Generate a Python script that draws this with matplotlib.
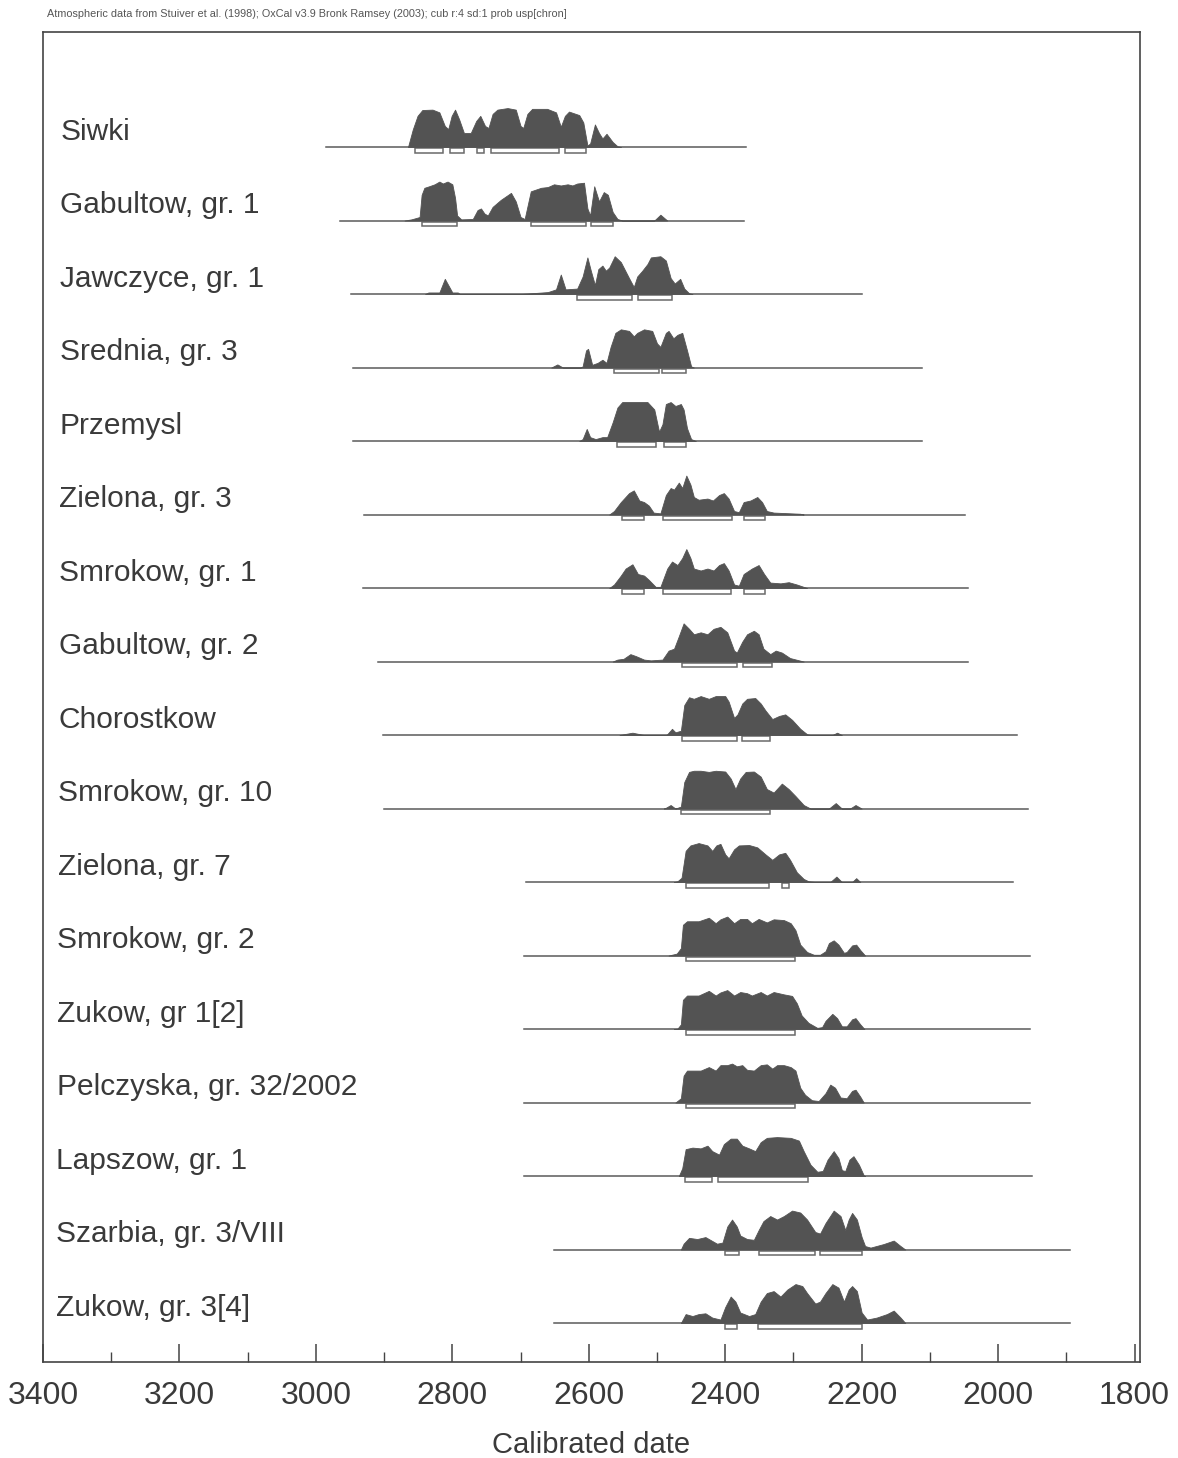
import matplotlib
matplotlib.use("Agg")
import matplotlib.pyplot as plt
from matplotlib.patches import Rectangle
from matplotlib import font_manager

# site / grave names, top to bottom
labels = ["Siwki", "Gabultow, gr. 1", "Jawczyce, gr. 1", "Srednia, gr. 3", "Przemysl",
          "Zielona, gr. 3", "Smrokow, gr. 1", "Gabultow, gr. 2", "Chorostkow",
          "Smrokow, gr. 10", "Zielona, gr. 7", "Smrokow, gr. 2", "Zukow, gr 1[2]",
          "Pelczyska, gr. 32/2002", "Lapszow, gr. 1", "Szarbia, gr. 3/VIII", "Zukow, gr. 3[4]"]

# extent of the calibration line under each distribution (cal BC)
spans = [(2985, 2370), (2965, 2373), (2948, 2199), (2946, 2111), (2946, 2111),
         (2929, 2048), (2931, 2044), (2909, 2044), (2902, 1972), (2900, 1956),
         (2692, 1978), (2695, 1953), (2695, 1953), (2695, 1953), (2695, 1950),
         (2651, 1895), (2651, 1895)]

# posterior outlines: (year BC, relative probability)
siwki = [(2865, 0), (2858, .45), (2851, .80), (2844, .95), (2829, .96), (2819, .89),
         (2811, .54), (2806, .46), (2801, .80), (2796, .96), (2790, .71), (2783, .36),
         (2773, .36), (2765, .67), (2759, .80), (2752, .54), (2747, .49), (2741, .85),
         (2734, .96), (2719, 1.0), (2707, .96), (2700, .54), (2696, .49), (2690, .85),
         (2683, .98), (2661, .98), (2648, .89), (2641, .52), (2635, .80), (2629, .91),
         (2614, .82), (2608, .63), (2602, .04), (2598, .09), (2591, .58), (2585, .36),
         (2580, .22), (2574, .34), (2565, .13), (2558, .02), (2553, 0)]
gabultow1 = [(2870, 0), (2860, .03), (2848, .09), (2845, .66), (2841, .84), (2834, .88),
             (2826, .93), (2819, 1.0), (2814, .95), (2807, 1.0), (2800, .93), (2796, .58),
             (2793, .13), (2787, .03), (2770, .04), (2763, .27), (2758, .31), (2753, .18),
             (2748, .13), (2741, .35), (2729, .53), (2714, .71), (2707, .49), (2700, .09),
             (2694, .04), (2685, .75), (2670, .84), (2660, .86), (2651, .93), (2641, .90),
             (2631, .93), (2624, .90), (2617, .95), (2607, .97), (2602, .31), (2598, .13),
             (2592, .88), (2585, .49), (2578, .73), (2572, .66), (2565, .22), (2558, .04),
             (2551, 0), (2504, 0), (2495, .15), (2485, 0)]
jawczyce1 = [(2840, 0), (2835, .04), (2819, .04), (2811, .39), (2800, .04), (2792, .04),
             (2789, 0), (2700, 0), (2660, .05), (2648, .12), (2641, .50), (2634, .12),
             (2617, .14), (2609, .45), (2602, .94), (2597, .60), (2591, .23), (2586, .64),
             (2580, .73), (2575, .60), (2570, .68), (2562, .97), (2553, .82), (2541, .41),
             (2534, .18), (2529, .45), (2522, .59), (2514, .77), (2509, .94), (2495, .97),
             (2487, .86), (2480, .41), (2474, .27), (2466, .39), (2460, .14), (2453, .02),
             (2448, 0)]
srednia3 = [(2655, 0), (2646, .08), (2638, 0), (2612, 0), (2609, .03), (2604, .44),
            (2601, .48), (2595, .07), (2587, .12), (2580, .20), (2574, .12), (2568, .53),
            (2561, .89), (2553, .98), (2541, .94), (2534, .80), (2529, .89), (2519, .98),
            (2507, .94), (2500, .62), (2495, .53), (2487, .89), (2483, .94), (2476, .75),
            (2470, .84), (2463, .89), (2456, .44), (2450, .03), (2446, 0)]
przemysl = [(2614, 0), (2609, .05), (2603, .31), (2598, .10), (2590, .05), (2580, .10),
            (2573, .10), (2565, .48), (2558, .86), (2551, 1.0), (2534, 1.0), (2514, 1.0),
            (2504, .81), (2497, .24), (2492, .43), (2487, .95), (2480, 1.0), (2473, .90),
            (2465, .95), (2461, .81), (2456, .33), (2450, .05), (2443, 0)]
zielona3 = [(2570, 0), (2563, .09), (2553, .32), (2541, .55), (2534, .62), (2526, .36),
            (2519, .32), (2512, .23), (2505, .05), (2495, .03), (2487, .50), (2480, .68),
            (2475, .64), (2468, .82), (2463, .68), (2457, 1.0), (2451, .77), (2446, .45),
            (2439, .38), (2426, .41), (2418, .36), (2409, .50), (2402, .55), (2395, .41),
            (2387, .09), (2380, .06), (2373, .32), (2363, .36), (2353, .45), (2346, .32),
            (2339, .09), (2329, .05), (2290, .02), (2285, 0)]
smrokow1 = [(2570, 0), (2563, .09), (2553, .32), (2546, .50), (2536, .61), (2528, .36),
            (2519, .32), (2512, .21), (2502, .03), (2495, .03), (2485, .50), (2478, .68),
            (2470, .59), (2463, .77), (2457, 1.0), (2451, .77), (2446, .50), (2436, .45),
            (2426, .50), (2417, .45), (2409, .59), (2402, .64), (2395, .45), (2387, .09),
            (2380, .06), (2373, .36), (2361, .50), (2351, .59), (2343, .36), (2334, .14),
            (2319, .12), (2307, .15), (2295, .09), (2280, 0)]
gabultow2 = [(2565, 0), (2558, .05), (2549, .07), (2539, .19), (2531, .14), (2519, .05),
             (2509, .03), (2492, .05), (2483, .28), (2475, .33), (2468, .65), (2461, .98),
             (2453, .84), (2446, .70), (2436, .75), (2426, .70), (2417, .84), (2407, .89),
             (2397, .75), (2387, .28), (2383, .23), (2375, .51), (2368, .70), (2358, .79),
             (2351, .70), (2344, .33), (2334, .19), (2326, .28), (2317, .23), (2305, .09),
             (2285, 0)]
chorostkow = [(2555, 0), (2536, .06), (2519, 0), (2487, 0), (2485, .02), (2478, .16),
              (2473, .07), (2465, .11), (2460, .77), (2453, .97), (2446, .93), (2436, 1.0),
              (2424, .93), (2414, 1.0), (2400, 1.0), (2395, .86), (2387, .44), (2382, .53),
              (2375, .81), (2368, .93), (2356, .95), (2348, .81), (2341, .63), (2331, .41),
              (2321, .49), (2312, .53), (2302, .39), (2290, .16), (2280, .02), (2275, 0),
              (2243, 0), (2236, .06), (2229, 0)]
smrokow10 = [(2490, 0), (2487, .02), (2480, .09), (2473, 0), (2465, .05), (2460, .68),
             (2453, .94), (2446, .97), (2436, .97), (2424, .94), (2414, .97), (2400, .95),
             (2392, .77), (2385, .50), (2378, .77), (2370, .94), (2358, .95), (2348, .82),
             (2339, .50), (2329, .41), (2317, .64), (2307, .50), (2297, .32), (2285, .09),
             (2275, 0), (2248, 0), (2238, .14), (2229, 0), (2217, 0), (2209, .09), (2200, 0)]
zielona7 = [(2475, 0), (2470, .02), (2464, .11), (2458, .80), (2451, .94), (2439, 1.0),
            (2426, .94), (2419, .80), (2413, .94), (2407, .98), (2400, .71), (2395, .61),
            (2387, .84), (2380, .94), (2365, .95), (2353, .89), (2341, .71), (2331, .57),
            (2321, .71), (2312, .75), (2305, .57), (2295, .25), (2285, .08), (2278, .02),
            (2268, 0), (2246, 0), (2237, .14), (2229, 0), (2214, 0), (2208, .10), (2202, 0)]
smrokow2 = [(2483, 0), (2471, .05), (2465, .19), (2462, .79), (2456, .88), (2439, .88),
            (2424, .97), (2414, .83), (2407, .93), (2397, 1.0), (2387, .83), (2378, .94),
            (2368, .94), (2361, .83), (2351, .94), (2339, .85), (2329, .93), (2314, .91),
            (2304, .83), (2297, .65), (2290, .28), (2280, .09), (2270, .02), (2261, .02),
            (2253, .11), (2248, .32), (2241, .39), (2234, .28), (2226, .07), (2222, .09),
            (2214, .26), (2208, .28), (2202, .14), (2195, 0)]
zukow1 = [(2475, 0), (2470, .01), (2465, .12), (2462, .75), (2456, .86), (2439, .86),
          (2424, .98), (2414, .86), (2407, .94), (2397, 1.0), (2387, .86), (2378, .95),
          (2368, .92), (2361, .86), (2348, .95), (2339, .86), (2329, .95), (2314, .89),
          (2302, .85), (2295, .66), (2288, .35), (2278, .16), (2265, .03), (2258, .05),
          (2253, .21), (2243, .39), (2236, .28), (2229, .07), (2222, .07), (2214, .25),
          (2209, .28), (2202, .12), (2196, 0)]
pelczyska = [(2473, 0), (2465, .11), (2461, .69), (2456, .82), (2436, .82), (2424, .91),
             (2414, .82), (2407, .96), (2397, .96), (2390, 1.0), (2383, .93), (2375, .96),
             (2368, .84), (2358, .82), (2348, .96), (2339, .98), (2331, .87), (2324, .96),
             (2314, .96), (2304, .91), (2297, .82), (2290, .38), (2283, .20), (2273, .06),
             (2263, .04), (2253, .24), (2246, .46), (2239, .38), (2231, .13), (2222, .11),
             (2214, .30), (2209, .33), (2202, .15), (2197, 0)]
lapszow1 = [(2468, 0), (2463, .20), (2458, .69), (2448, .73), (2436, .71), (2426, .78),
            (2419, .64), (2409, .55), (2402, .82), (2392, .96), (2383, .96), (2375, .78),
            (2365, .71), (2356, .64), (2348, .87), (2339, .98), (2324, 1.0), (2304, .98),
            (2292, .91), (2285, .64), (2275, .29), (2265, .11), (2257, .13), (2250, .42),
            (2241, .64), (2234, .46), (2229, .15), (2224, .13), (2218, .42), (2212, .51),
            (2204, .29), (2197, .02), (2195, 0)]
szarbia3 = [(2465, 0), (2461, .15), (2453, .30), (2441, .27), (2429, .32), (2422, .25),
            (2412, .15), (2404, .18), (2397, .59), (2390, .77), (2383, .59), (2378, .36),
            (2368, .27), (2358, .25), (2351, .50), (2344, .73), (2334, .86), (2324, .77),
            (2314, .86), (2302, 1.0), (2290, .95), (2280, .77), (2268, .45), (2261, .41),
            (2253, .68), (2241, 1.0), (2231, .86), (2224, .50), (2219, .77), (2214, .94),
            (2207, .77), (2200, .32), (2195, .09), (2187, .05), (2168, .14), (2153, .23),
            (2143, .09), (2136, 0)]
zukow3 = [(2465, 0), (2458, .23), (2448, .18), (2439, .23), (2429, .25), (2419, .14),
          (2407, .09), (2400, .41), (2392, .68), (2385, .55), (2378, .27), (2365, .18),
          (2356, .23), (2348, .55), (2339, .77), (2329, .82), (2319, .68), (2309, .86),
          (2297, 1.0), (2287, .95), (2280, .77), (2268, .50), (2261, .55), (2253, .77),
          (2243, 1.0), (2234, .91), (2226, .55), (2219, .86), (2214, .95), (2207, .82),
          (2200, .27), (2192, .09), (2178, .14), (2163, .23), (2153, .32), (2143, .14),
          (2136, 0)]

outlines = [siwki, gabultow1, jawczyce1, srednia3, przemysl, zielona3, smrokow1,
            gabultow2, chorostkow, smrokow10, zielona7, smrokow2, zukow1, pelczyska,
            lapszow1, szarbia3, zukow3]

# 95.4% highest posterior density ranges drawn as brackets under the line
ranges = [
    [(2855, 2813), (2803, 2783), (2764, 2753), (2744, 2643), (2635, 2604)],
    [(2844, 2793), (2685, 2604), (2597, 2565)],
    [(2617, 2536), (2528, 2478)],
    [(2563, 2497), (2492, 2458)],
    [(2559, 2502), (2490, 2458)],
    [(2551, 2519), (2491, 2390), (2373, 2341)],
    [(2551, 2519), (2491, 2392), (2373, 2341)],
    [(2463, 2383), (2374, 2331)],
    [(2464, 2383), (2375, 2334)],
    [(2465, 2335)],
    [(2458, 2336), (2317, 2307)],
    [(2458, 2297)],
    [(2458, 2297)],
    [(2458, 2297)],
    [(2459, 2419), (2411, 2278)],
    [(2400, 2380), (2351, 2269), (2261, 2200)],
    [(2401, 2382), (2352, 2200)],
]

header = ("Atmospheric data from Stuiver et al. (1998); OxCal v3.9 Bronk Ramsey (2003); "
          "cub r:4 sd:1 prob usp[chron]")

fill_col = "#535353"
line_col = "#5a5a5a"
amp = 0.53         # peak height in row units

installed = {f.name for f in font_manager.fontManager.ttflist}
if "Liberation Sans Narrow" in installed:
    num_font, num_size, xl_size = "Liberation Sans Narrow", 26, 25
else:
    num_font, num_size, xl_size = "Liberation Sans", 23, 21

plt.rcParams["font.family"] = ["Liberation Sans", "DejaVu Sans"]

fig = plt.figure(figsize=(11.78, 14.58), dpi=100)
ax = fig.add_axes([43 / 1178, 1 - 1362 / 1458, 1097 / 1178, 1330 / 1458])

for i, (name, (x0, x1), pts, rng) in enumerate(zip(labels, spans, outlines, ranges)):
    ax.plot([x0, x1], [i, i], color=line_col, lw=1.1, zorder=2)
    yrs = [p[0] for p in pts]
    hs = [i - amp * p[1] for p in pts]
    ax.fill_between(yrs, i, hs, color=fill_col, lw=0.6, edgecolor=fill_col, zorder=3)
    for a, b in rng:
        ax.add_patch(Rectangle((min(a, b), i + 0.015), abs(a - b), 0.065,
                               facecolor="none", edgecolor="#6a6a6a", lw=1.1, zorder=2))
    # labels drift slightly left going down the column
    ax.text(3374 + 0.45 * i, i - 0.21, name, fontsize=21.5, color="#3a3a3a",
            va="center", ha="left")

ax.set_xlim(3398, 1792)
ax.set_ylim(16.53, -1.565)

ax.set_xticks(range(3400, 1799, -200))
ax.set_xticks(range(3300, 1850, -200), minor=True)
ax.tick_params(axis="x", which="major", direction="in", length=13, width=1.1,
               color="#444444", pad=14, labelsize=num_size, labelcolor="#3a3a3a")
ax.tick_params(axis="x", which="minor", direction="in", length=7, width=1.0, color="#444444")
for t in ax.get_xticklabels():
    t.set_family(num_font)
ax.set_yticks([])
for s in ax.spines.values():
    s.set_color("#444444")
    s.set_linewidth(1.2)

ax.set_xlabel("Calibrated date", fontsize=xl_size, family=num_font, color="#3a3a3a", labelpad=14)
fig.text(47 / 1178, 1 - 14 / 1458, header, fontsize=7.8, color="#555555", va="center")

fig.savefig("out.png", dpi=100, facecolor="white")
